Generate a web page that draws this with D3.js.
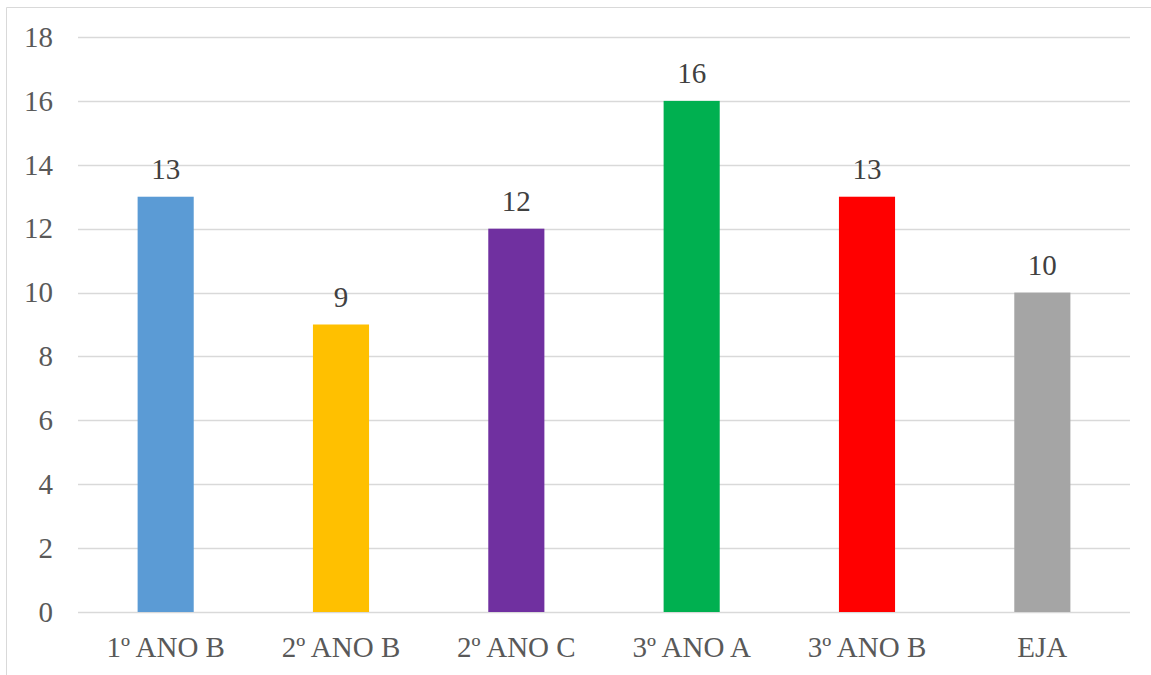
<!DOCTYPE html>
<html>
<head>
<meta charset="utf-8">
<script src="https://cdn.jsdelivr.net/npm/d3@7"></script>
<style>
  html, body { margin: 0; padding: 0; background: #fff; }
  svg { display: block; }
</style>
</head>
<body>
<svg id="chart" width="1151" height="675"></svg>
<script>
const categories = ["1º ANO B", "2º ANO B", "2º ANO C", "3º ANO A", "3º ANO B", "EJA"];
const values = [13, 9, 12, 16, 13, 10];
const colors = ["#5b9bd5", "#ffc000", "#7030a0", "#00b050", "#ff0000", "#a5a5a5"];
const yTicks = [0, 2, 4, 6, 8, 10, 12, 14, 16, 18];

const svg = d3.select("#chart");
const W = 1151, H = 675;
const plot = { left: 78, right: 1130, top: 37, bottom: 612 };
const font = "'Liberation Serif', 'Times New Roman', serif";
const fontSize = 29;

// chart frame (left and top edges)
svg.append("path")
  .attr("d", `M6.5,${H} V7.5 H${W}`)
  .attr("fill", "none")
  .attr("stroke", "#d9d9d9")
  .attr("stroke-width", 1);

const x = d3.scaleBand().domain(categories).range([plot.left, plot.right]).paddingInner(0.68).paddingOuter(0.34);
const y = d3.scaleLinear().domain([0, 18]).range([plot.bottom, plot.top]);

// horizontal gridlines
svg.append("g")
  .selectAll("line")
  .data(yTicks)
  .join("line")
  .attr("x1", plot.left).attr("x2", plot.right)
  .attr("y1", d => Math.round(y(d)) + 0.5).attr("y2", d => Math.round(y(d)) + 0.5)
  .attr("stroke", "#d9d9d9").attr("stroke-width", 1.5);

// y axis labels
const yAxis = svg.append("g")
  .attr("transform", `translate(${plot.left - 25},0)`)
  .call(d3.axisLeft(y).tickValues(yTicks).tickSize(0).tickPadding(0));
yAxis.select(".domain").remove();
yAxis.selectAll("text")
  .attr("font-family", font).attr("font-size", fontSize).attr("fill", "#595959");

// bars
svg.append("g")
  .selectAll("rect")
  .data(categories)
  .join("rect")
  .attr("x", d => x(d))
  .attr("width", x.bandwidth())
  .attr("y", (d, i) => y(values[i]))
  .attr("height", (d, i) => y(0) - y(values[i]))
  .attr("fill", (d, i) => colors[i]);

// value labels
svg.append("g")
  .selectAll("text")
  .data(categories)
  .join("text")
  .attr("x", d => x(d) + x.bandwidth() / 2)
  .attr("y", (d, i) => y(values[i]) - 17.5)
  .attr("text-anchor", "middle")
  .attr("font-family", font).attr("font-size", fontSize).attr("fill", "#404040")
  .text((d, i) => values[i]);

// x axis labels
const xAxis = svg.append("g")
  .attr("transform", `translate(0,${plot.bottom + 24})`)
  .call(d3.axisBottom(x).tickSize(0).tickPadding(0));
xAxis.select(".domain").remove();
xAxis.selectAll("text")
  .attr("font-family", font).attr("font-size", fontSize).attr("fill", "#595959");
</script>
</body>
</html>
